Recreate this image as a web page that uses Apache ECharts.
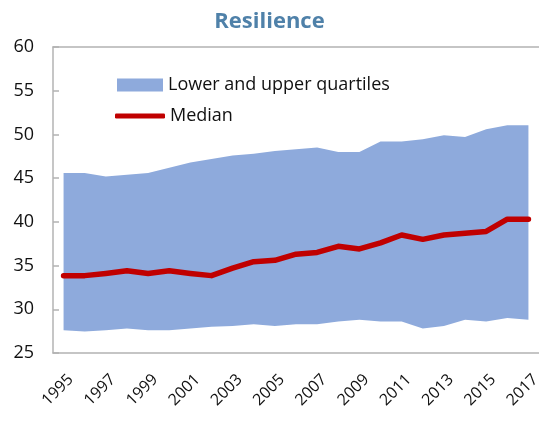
<!DOCTYPE html>
<html>
<head>
<meta charset="utf-8">
<script src="https://cdn.jsdelivr.net/npm/echarts@6/dist/echarts.min.js"></script>
<style>
  html, body { margin: 0; padding: 0; background: #fff; }
  #chart { width: 539px; height: 421px; }
</style>
</head>
<body>
<div id="chart"></div>
<script>
// years on the category axis
var years = ['1995', '1996', '1997', '1998', '1999', '2000', '2001', '2002', '2003', '2004', '2005', '2006',
  '2007', '2008', '2009', '2010', '2011', '2012', '2013', '2014', '2015', '2016', '2017']
// lower quartile
var lower = [27.6, 27.45, 27.6, 27.8, 27.6, 27.6, 27.8, 28.0, 28.1, 28.3, 28.1, 28.3,
  28.3, 28.6, 28.8, 28.6, 28.6, 27.8, 28.1, 28.8, 28.6, 29.0, 28.8]
// upper quartile
var upper = [45.6, 45.6, 45.2, 45.4, 45.6, 46.2, 46.8, 47.2, 47.6, 47.8, 48.1, 48.3,
  48.5, 48.0, 48.0, 49.2, 49.2, 49.45, 49.9, 49.7, 50.6, 51.05, 51.05]
// median
var median = [33.85, 33.85, 34.1, 34.4, 34.1, 34.4, 34.1, 33.85, 34.7, 35.45, 35.6, 36.3,
  36.5, 37.2, 36.9, 37.6, 38.5, 38.0, 38.5, 38.7, 38.9, 40.3, 40.3]
var yTicks = [25, 30, 35, 40, 45, 50, 55, 60]

var bandColor = '#8eaadc'
var lineColor = '#c00000'
var axisColor = '#b3b3b3'
var fontFamily = '"Open Sans", "Noto Sans", sans-serif'

// the band is a stack: invisible lower part + (upper - lower) filled
var spread = upper.map(function (v, i) { return +(v - lower[i]).toFixed(2) })

var myChart = echarts.init(document.getElementById('chart'))
var option = {
  animation: false,
  title: {
    text: 'Resilience',
    left: 'center',
    top: 6,
    textStyle: { color: '#4f81a9', fontSize: 22, fontWeight: 'bold', fontFamily: fontFamily }
  },
  legend: [
    {
      left: 117,
      top: 76,
      padding: 0,
      itemWidth: 46,
      itemHeight: 13,
      icon: 'rect',
      data: ['Lower and upper quartiles'],
      textStyle: { fontSize: 18, color: '#111', fontFamily: fontFamily }
    },
    {
      left: 115,
      top: 107,
      padding: 0,
      itemWidth: 50,
      itemHeight: 5,
      icon: 'roundRect',
      data: ['Median'],
      textStyle: { fontSize: 18, color: '#111', fontFamily: fontFamily }
    }
  ],
  grid: { left: 53, right: 0, top: 47, bottom: 68, containLabel: false, outerBoundsMode: 'none' },
  xAxis: [
    {
      type: 'category',
      data: years,
      boundaryGap: true,
      axisLine: { lineStyle: { color: axisColor, width: 1.5 } },
      axisTick: { inside: true, length: 5, interval: 0, lineStyle: { color: axisColor, width: 1.5 } },
      axisLabel: {
        interval: 1,
        rotate: 45,
        fontSize: 16,
        color: '#111',
        margin: 17,
        verticalAlign: 'top',
        padding: [2, 0, 0, 0],
        fontFamily: fontFamily
      },
      splitLine: { show: false }
    },
    {
      type: 'category',
      data: years,
      position: 'top',
      axisLine: { lineStyle: { color: axisColor, width: 1.5 } },
      axisTick: { show: false },
      axisLabel: { show: false },
      splitLine: { show: false }
    }
  ],
  yAxis: {
    type: 'value',
    min: yTicks[0],
    max: yTicks[yTicks.length - 1],
    interval: 5,
    axisLine: { show: true, lineStyle: { color: axisColor, width: 1.5 } },
    axisTick: { show: true, inside: true, length: 6, lineStyle: { color: axisColor, width: 1.5 } },
    axisLabel: { fontSize: 18, color: '#111', margin: 19, fontFamily: fontFamily },
    splitLine: { show: false }
  },
  series: [
    {
      name: 'lower',
      type: 'line',
      stack: 'band',
      data: lower,
      symbol: 'none',
      lineStyle: { opacity: 0 },
      silent: true
    },
    {
      name: 'Lower and upper quartiles',
      type: 'line',
      stack: 'band',
      data: spread,
      symbol: 'none',
      color: bandColor,
      lineStyle: { opacity: 0 },
      areaStyle: { color: bandColor, opacity: 1 }
    },
    {
      name: 'Median',
      type: 'line',
      data: median,
      symbol: 'none',
      color: lineColor,
      lineStyle: { color: lineColor, width: 5.5, cap: 'round', join: 'round' },
      z: 5
    }
  ]
}
myChart.setOption(option)
</script>
</body>
</html>
